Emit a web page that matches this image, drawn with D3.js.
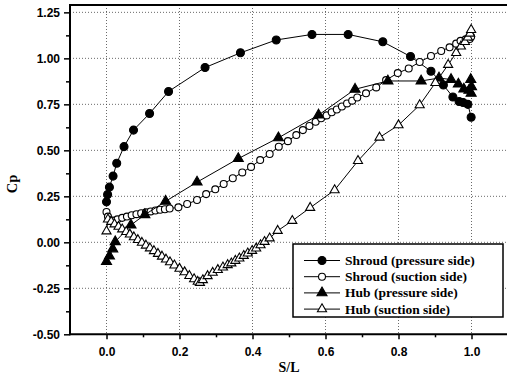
<!DOCTYPE html>
<html><head><meta charset="utf-8">
<script src="https://cdn.jsdelivr.net/npm/d3@7"></script>
<style>body{margin:0;background:#fff}svg{display:block}</style>
</head><body><svg id="c" width="507" height="380"></svg>
<script>
const shroudPressX=[0.000,0.003,0.008,0.018,0.028,0.048,0.074,0.118,0.170,0.270,0.367,0.465,0.563,0.662,0.757,0.833,0.889,0.923,0.949,0.966,0.977,0.990,0.999];
const shroudPressY=[0.22,0.26,0.30,0.36,0.43,0.52,0.61,0.70,0.82,0.95,1.03,1.10,1.13,1.13,1.09,1.01,0.93,0.855,0.79,0.765,0.76,0.75,0.68];
const shroudSuctX=[0,0.004,0.010,0.018,0.030,0.043,0.056,0.069,0.082,0.095,0.108,0.121,0.134,0.147,0.160,0.173,0.197,0.221,0.248,0.273,0.298,0.321,0.346,0.372,0.396,0.421,0.447,0.472,0.497,0.520,0.538,0.556,0.573,0.588,0.603,0.617,0.631,0.645,0.659,0.673,0.687,0.711,0.739,0.766,0.798,0.828,0.858,0.889,0.917,0.940,0.958,0.970,0.984,0.995,0.999];
const shroudSuctY=[0.165,0.14,0.12,0.118,0.125,0.133,0.140,0.147,0.153,0.158,0.163,0.168,0.173,0.177,0.180,0.184,0.19,0.208,0.23,0.262,0.288,0.317,0.348,0.38,0.41,0.447,0.48,0.52,0.55,0.583,0.61,0.632,0.655,0.674,0.69,0.707,0.722,0.738,0.755,0.77,0.787,0.81,0.842,0.882,0.92,0.945,0.98,1.013,1.04,1.06,1.08,1.095,1.103,1.105,1.117];
const hubPressX=[0.000,0.008,0.017,0.024,0.067,0.105,0.162,0.248,0.361,0.471,0.581,0.681,0.771,0.862,0.911,0.944,0.964,0.979,0.993,0.999,1.000,0.998];
const hubPressY=[-0.105,-0.075,-0.036,0.003,0.094,0.15,0.223,0.327,0.455,0.568,0.692,0.832,0.877,0.877,0.893,0.885,0.86,0.833,0.826,0.81,0.846,0.885];
const hubSuctX=[0.000,0.004,0.013,0.022,0.033,0.043,0.054,0.064,0.075,0.086,0.097,0.108,0.119,0.130,0.141,0.152,0.163,0.174,0.186,0.200,0.214,0.227,0.240,0.250,0.256,0.264,0.277,0.291,0.305,0.319,0.332,0.342,0.353,0.364,0.376,0.387,0.399,0.410,0.422,0.433,0.447,0.469,0.509,0.558,0.625,0.689,0.748,0.800,0.858,0.901,0.936,0.958,0.971,0.982,0.990,0.996,0.999];
const hubSuctY=[0.060,0.125,0.112,0.098,0.085,0.071,0.057,0.043,0.028,0.013,-0.002,-0.017,-0.032,-0.047,-0.062,-0.077,-0.093,-0.108,-0.125,-0.143,-0.162,-0.182,-0.200,-0.214,-0.220,-0.205,-0.183,-0.165,-0.150,-0.136,-0.123,-0.114,-0.100,-0.087,-0.073,-0.060,-0.046,-0.033,-0.015,0.003,0.022,0.063,0.117,0.188,0.284,0.443,0.57,0.637,0.746,0.867,0.965,1.03,1.065,1.09,1.114,1.135,1.155];
const xTicks=[0.0,0.2,0.4,0.6,0.8,1.0];
const xTickLabels=["0.0","0.2","0.4","0.6","0.8","1.0"];
const yTicks=[-0.5,-0.25,0,0.25,0.5,0.75,1.0,1.25];
const yTickLabels=["-0.50","-0.25","0.00","0.25","0.50","0.75","1.00","1.25"];
const seriesNames=["Shroud (pressure side)","Shroud (suction side)","Hub (pressure side)","Hub (suction side)"];

const svg=d3.select("#c");
const L=70,R=508,T=5,B=334.3;
const x=d3.scaleLinear().domain([-0.1,1.1]).range([L,R]);
const y=d3.scaleLinear().domain([-0.5,1.29]).range([B,T]);

// grid
const g=svg.append("g");
g.selectAll(".gx").data(xTicks).enter().append("line")
 .attr("x1",d=>x(d)).attr("x2",d=>x(d)).attr("y1",T).attr("y2",B)
 .attr("stroke","#444").attr("stroke-width",0.8).attr("stroke-dasharray","1,2");
g.selectAll(".gy").data(yTicks.filter(v=>v>-0.5)).enter().append("line")
 .attr("x1",L).attr("x2",R).attr("y1",d=>y(d)).attr("y2",d=>y(d))
 .attr("stroke","#444").attr("stroke-width",0.8).attr("stroke-dasharray","1,2");

// axes
const xAxis=d3.axisBottom(x).tickValues(xTicks).tickFormat((d,i)=>xTickLabels[i]).tickSize(5).tickPadding(8);
const xMinor=d3.axisBottom(x).tickValues([0.1,0.3,0.5,0.7,0.9]).tickFormat("").tickSize(3);
const yAxis=d3.axisLeft(y).tickValues(yTicks).tickFormat((d,i)=>yTickLabels[i]).tickSize(6).tickPadding(4);
const yMinor=d3.axisLeft(y).tickValues([-0.375,-0.125,0.125,0.375,0.625,0.875,1.125]).tickFormat("").tickSize(4);
function styleAx(sel){sel.select(".domain").remove();sel.selectAll("line").attr("stroke","#000").attr("stroke-width",1.5);
 sel.selectAll("text").attr("font-family","Liberation Sans, Arial, sans-serif").attr("font-weight","bold").attr("font-size","12px").attr("fill","#000");}
svg.append("g").attr("transform",`translate(0,${B})`).call(xAxis).call(styleAx);
svg.append("g").attr("transform",`translate(0,${B})`).call(xMinor).call(styleAx);
svg.append("g").attr("transform",`translate(${L},0)`).call(yAxis).call(styleAx);
svg.append("g").attr("transform",`translate(${L},0)`).call(yMinor).call(styleAx);
svg.append("line").attr("x1",L).attr("x2",R).attr("y1",B).attr("y2",B).attr("stroke","#000").attr("stroke-width",2);
svg.append("line").attr("x1",L).attr("x2",R).attr("y1",T).attr("y2",T).attr("stroke","#000").attr("stroke-width",2);
svg.append("line").attr("x1",L).attr("x2",L).attr("y1",T-1).attr("y2",B+1).attr("stroke","#000").attr("stroke-width",2);

// titles
svg.append("text").attr("x",289).attr("y",372).attr("text-anchor","middle")
 .attr("font-family","Liberation Serif, Times New Roman, serif").attr("font-weight","bold").attr("font-size","14px").text("S/L");
svg.append("text").attr("transform","translate(17,184) rotate(-90)").attr("text-anchor","middle")
 .attr("font-family","Liberation Serif, Times New Roman, serif").attr("font-weight","bold").attr("font-size","14.5px").text("Cp");

// series
const series=[
 {xs:shroudPressX,ys:shroudPressY,type:d3.symbolCircle,size:50,fill:"#000"},
 {xs:shroudSuctX,ys:shroudSuctY,type:d3.symbolCircle,size:38,fill:"#fff"},
 {xs:hubPressX,ys:hubPressY,type:d3.symbolTriangle,size:44,fill:"#000"},
 {xs:hubSuctX,ys:hubSuctY,type:d3.symbolTriangle,size:36,fill:"#fff"}
];
const line=d3.line().x(d=>x(d[0])).y(d=>y(d[1]));
series.forEach(s=>{
 const pts=s.xs.map((v,i)=>[v,s.ys[i]]);
 svg.append("path").datum(pts).attr("d",line).attr("fill","none").attr("stroke","#000").attr("stroke-width",1);
 svg.append("g").selectAll("path").data(pts).enter().append("path")
  .attr("d",d3.symbol().type(s.type).size(s.size))
  .attr("transform",d=>`translate(${x(d[0])},${y(d[1])})`)
  .attr("fill",s.fill).attr("stroke","#000").attr("stroke-width",1.1);
});

// legend
const lg=svg.append("g");
lg.append("rect").attr("x",293).attr("y",244).attr("width",210).attr("height",73)
 .attr("fill","#fff").attr("stroke","#000").attr("stroke-width",1.5);
series.forEach((s,i)=>{
 const yy=260.5+i*16.2;
 lg.append("line").attr("x1",304).attr("x2",340).attr("y1",yy).attr("y2",yy).attr("stroke","#000").attr("stroke-width",1);
 lg.append("path").attr("d",d3.symbol().type(s.type).size(s.size)).attr("transform",`translate(322,${yy})`)
  .attr("fill",s.fill).attr("stroke","#000").attr("stroke-width",1.1);
 lg.append("text").attr("x",345).attr("y",yy+4.5)
  .attr("font-family","Liberation Serif, Times New Roman, serif").attr("font-weight","bold").attr("font-size","13.5px").text(seriesNames[i]);
});
</script></body></html>
